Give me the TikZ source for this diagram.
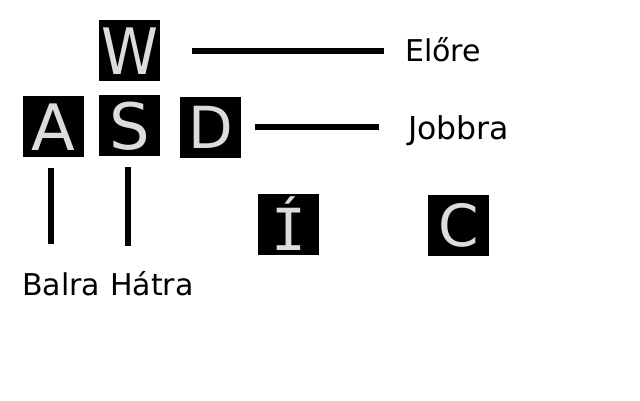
\documentclass[tikz,border=0pt]{standalone}
\usepackage{fontspec}
\setmainfont{DejaVu Sans}
\newfontfamily\keymono{DejaVu Sans Mono}
\definecolor{keytext}{HTML}{DCDCDC}
\tikzset{
  keybig/.style={fill=black, text=keytext, minimum size=61pt, inner sep=0pt,
    font=\fontsize{64}{64}\selectfont, text height=47pt, text depth=0pt},
  keysmall/.style={fill=black, text=keytext, minimum size=61pt, inner sep=0pt,
    font=\fontsize{58}{58}\selectfont, text height=42pt, text depth=0pt},
  lbl/.style={anchor=base west, inner sep=0pt, font=\fontsize{30}{30}\selectfont},
  bar/.style={line width=6pt, black}
}
\begin{document}
\begin{tikzpicture}[x=1pt, y=-1pt]
\useasboundingbox[fill=white] (0,0) rectangle (640,400);
% keys
\node[keybig] (W) at (129.5,50.5) {\scalebox{0.9}[1]{W}};
\node[keybig] (A) at (53.5,126.5) {A};
\node[keybig] (S) at (129.5,125.5) {S};
\node[keysmall] (D) at (210.5,127.5) {D};
\node[keysmall] (I) at (288.5,224.5) {\raisebox{-4.5pt}{\keymono Í}};
\node[keysmall] (C) at (458.5,225.5) {C};
% labels
\node[lbl] (elore) at (405,61) {Előre};
\node[lbl, font=\fontsize{31.5}{31.5}\selectfont] (jobbra) at (408,139) {Jobbra};
\node[lbl] (balra) at (22,295) {Balra};
\node[lbl] (hatra) at (110,295) {Hátra};
% connectors
\draw[bar, shorten <=32pt, shorten >=21pt] (W.east) -- (W.east -| elore.west);
\draw[bar, shorten <=14pt, shorten >=29pt] ([yshift=1pt]D.east) -- ([yshift=1pt]D.east -| jobbra.west);
\draw[bar, shorten <=11pt, shorten >=28pt] ([xshift=-2.8pt]A.south) -- ([xshift=-2.8pt]A.south |- balra.north);
\draw[bar, shorten <=11pt, shorten >=25pt] ([xshift=-1.5pt]S.south) -- ([xshift=-1.5pt]S.south |- hatra.north);
\end{tikzpicture}
\end{document}
